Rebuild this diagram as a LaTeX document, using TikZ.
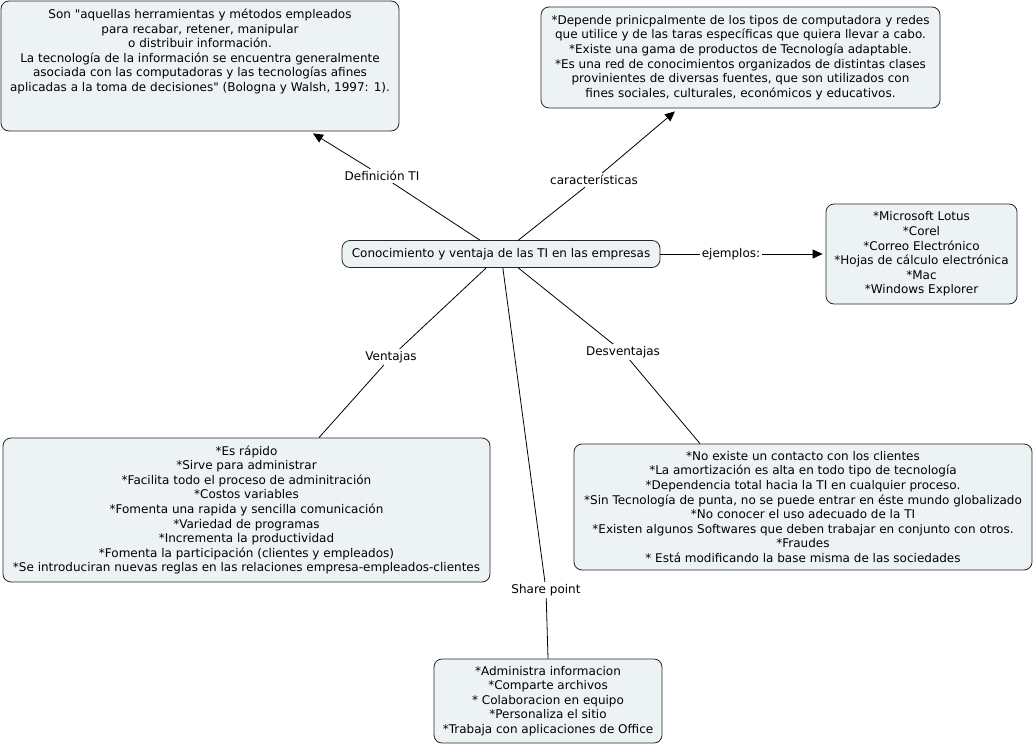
\documentclass[tikz,border=0pt]{standalone}
\usepackage{fontspec}
\setmainfont{DejaVu Sans}[Ligatures=TeXOff]
\usetikzlibrary{arrows.meta}
\definecolor{boxfill}{RGB}{237,243,245}
\begin{document}
\begin{tikzpicture}[x=1pt,y=-1pt,
  font=\fontsize{12}{14.6}\selectfont,
  box/.style={draw=black!85, fill=boxfill, rounded corners=8pt, line width=0.8pt, align=center, inner sep=0pt},
  lab/.style={fill=white, inner sep=2pt},
  conn/.style={draw=black, line width=0.8pt},
  arr/.style={conn, -{Triangle[length=10pt,width=9pt]}}]
\useasboundingbox (0,0) rectangle (1036,747);

% boxes
\node[box, minimum width=398pt, minimum height=130pt] (tl) at (200,66) {};
\node[align=center, inner sep=0pt] (tltext) at (200,51.5) {Son "aquellas herramientas y métodos empleados\\para recabar, retener, manipular\\o distribuir información.\\ La tecnología de la información se encuentra generalmente\\asociada con las computadoras y las tecnologías afines\\aplicadas a la toma de decisiones" (Bologna y Walsh, 1997: 1).};

\node[box, minimum width=399pt, minimum height=101pt] (tr) at (740.5,57.5) {*Depende prinicpalmente de los tipos de computadora y redes\\que utilice y de las taras específicas que quiera llevar a cabo.\\*Existe una gama de productos de Tecnología adaptable.\\*Es una red de conocimientos organizados de distintas clases\\provinientes de diversas fuentes, que son utilizados con\\fines sociales, culturales, económicos y educativos.};

\node[box, minimum width=318pt, minimum height=27pt] (c) at (501,254) {Conocimiento y ventaja de las TI en las empresas};

\node[box, minimum width=191pt, minimum height=100pt] (rb) at (921.5,254) {*Microsoft Lotus\\*Corel\\*Correo Electrónico\\*Hojas de cálculo electrónica\\*Mac\\*Windows Explorer};

\node[box, minimum width=487pt, minimum height=144pt] (bl) at (246.5,510) {*Es rápido\\*Sirve para administrar\\*Facilita todo el proceso de adminitración\\*Costos variables\\*Fomenta una rapida y sencilla comunicación\\*Variedad de programas\\*Incrementa la productividad\\*Fomenta la participación (clientes y empleados)\\*Se introduciran nuevas reglas en las relaciones empresa-empleados-clientes};

\node[box, minimum width=458pt, minimum height=126pt] (br) at (803,507) {*No existe un contacto con los clientes\\*La amortización es alta en todo tipo de tecnología\\*Dependencia total hacia la TI en cualquier proceso.\\*Sin Tecnología de punta, no se puede entrar en éste mundo globalizado\\*No conocer el uso adecuado de la TI\\*Existen algunos Softwares que deben trabajar en conjunto con otros.\\*Fraudes\\* Está modificando la base misma de las sociedades};

\node[box, minimum width=228pt, minimum height=84pt] (bc) at (548,701) {*Administra informacion\\*Comparte archivos\\* Colaboracion en equipo\\*Personaliza el sitio\\*Trabaja con aplicaciones de Office};

% labels
\node[lab] (ldef) at (382,176) {Definición TI};
\node[lab] (lcar) at (594,180) {características};
\node[lab] (lej) at (731,254) {ejemplos:};
\node[lab] (lven) at (391,357) {Ventajas};
\node[lab] (ldes) at (623,352) {Desventajas};
\node[lab] (lsp) at (546,590) {Share point};

% connectors
\draw[conn] (c) -- (ldef);
\draw[arr] (ldef) -- ([xshift=113pt,yshift=-2pt]tl.south);
\draw[conn] (c) -- (lcar);
\draw[arr] (lcar) -- ([xshift=-65.5pt,yshift=-3pt]tr.south);
\draw[conn] (c) -- (lej);
\draw[arr] (lej) -- ([xshift=-3pt]rb.west);
\draw[conn] (c) -- (lven);
\draw[conn] (lven) -- ([xshift=72.5pt]bl.north);
\draw[conn] (c) -- (ldes);
\draw[conn] (ldes) -- ([xshift=-103pt]br.north);
\draw[conn] (c) -- (lsp);
\draw[conn] (lsp) -- (bc.north);
\end{tikzpicture}
\end{document}
